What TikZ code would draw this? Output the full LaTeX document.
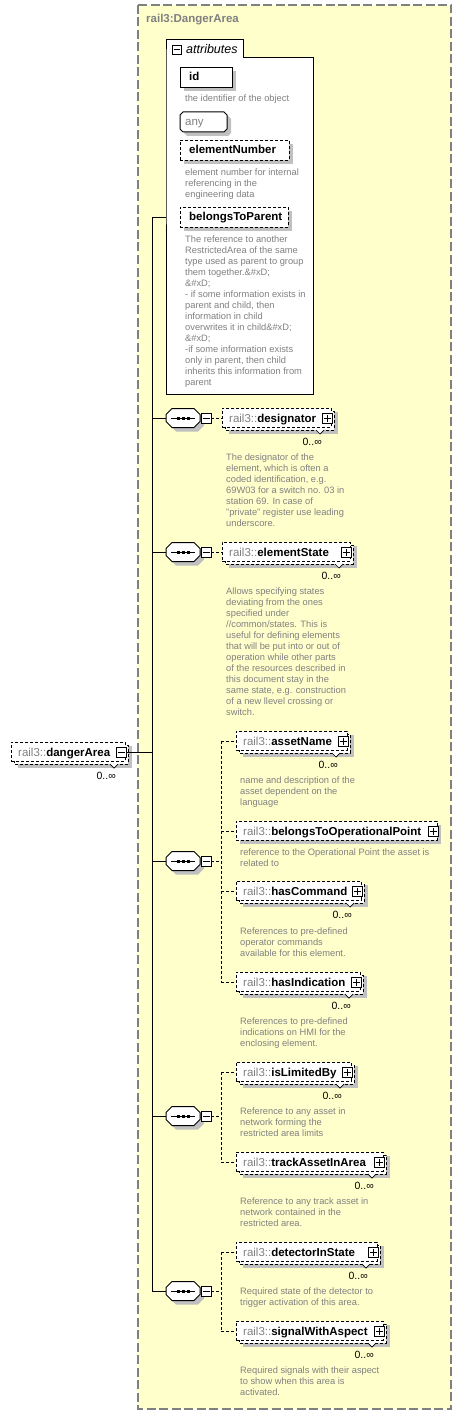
\documentclass[tikz,border=0pt]{standalone}
\usepackage{fontspec}
\setmainfont{Liberation Sans}
\usetikzlibrary{calc}
\definecolor{bgyellow}{RGB}{255,255,204}
\definecolor{framegray}{RGB}{128,128,128}
\definecolor{descgray}{RGB}{128,128,128}
\definecolor{shadowgray}{RGB}{192,192,192}
\tikzset{
  outerframe/.style={draw=framegray, line width=1.3pt, dash pattern=on 9pt off 3.5pt, fill=bgyellow},
  descr/.style={font=\fontsize{9.3}{11}\selectfont, text=descgray, align=left, anchor=north west, inner sep=0pt},
  ebox/.style={draw=black, line width=0.9pt, dash pattern=on 3pt off 2pt, fill=white},
  sbox/.style={draw=black, line width=1pt, fill=white},
  namefont/.style={font=\fontsize{11.5}{13}\selectfont},
  card/.style={font=\fontsize{10.5}{12}\selectfont, anchor=base east, inner sep=0pt},
  conn/.style={line width=1pt, draw=black},
  dconn/.style={line width=0.9pt, draw=black, dash pattern=on 3pt off 2pt},
  sqbox/.style={draw=black, line width=0.8pt, fill=white, minimum size=10pt, inner sep=0pt},
}
\newcommand\octa[5]{({#1+#5},{#2}) -- ({#3-#5},{#2}) -- ({#3},{#2+#5}) -- ({#3},{#4-#5}) -- ({#3-#5},{#4}) -- ({#1+#5},{#4}) -- ({#1},{#4-#5}) -- ({#1},{#2+#5}) -- cycle}
% name, L, c, R, label, multi, plus
\newcommand\xelem[7]{%
  \ifnum#6=1
    \fill[shadowgray] ({#2+7},{#3-6}) rectangle ({#4+7},{#3+16});
    \draw[ebox] ({#2+3},{#3-7}) rectangle ({#4+3},{#3+12});
  \else
    \fill[shadowgray] ({#2+4},{#3-6}) rectangle ({#4+4},{#3+13});
  \fi
  \node[ebox, minimum width={#4-#2}, minimum height=19, inner sep=0pt, anchor=north west] (#1) at (#2,{#3-10}) {};
  \node[namefont, anchor=base west, inner sep=0pt] (#1-t) at ({#2+7},{#3+4}) {\textcolor{descgray}{rail3::}\textbf{#5}};
  \node[sqbox] (#1-s) at ({#4-4},#3) {};
  \draw[line width=0.8pt] ($(#1-s.center)+(-3.5,0)$) -- ($(#1-s.center)+(3.5,0)$);
  \ifnum#7=1 \draw[line width=0.8pt] ($(#1-s.center)+(0,-3.5)$) -- ($(#1-s.center)+(0,3.5)$);\fi
  \ifnum#6=1
    \draw[fill=white, line width=0.7pt] ({#4-15},{#3+12}) -- ({#4-11},{#3+16}) -- ({#4-7},{#3+12});
    \node[card] (#1-c) at ({#4-9},{#3+27}) {0..∞};
  \fi
}
\newcommand\xdesc[4]{\node[descr] (#1-d) at (#2,{#3-5.2}) {\strut #4};}
% name, c
\newcommand\xseq[2]{%
  \fill[shadowgray] \octa{170}{#2-5.5}{204}{#2+13.5}{6};
  \draw[sbox] \octa{166}{#2-9.5}{200}{#2+9.5}{6};
  \node[inner sep=0pt, minimum width=34, minimum height=19] (#1) at (183,#2) {};
  \draw[line width=1pt] (171,#2) -- (195,#2);
  \fill (176.5,{#2-1.5}) rectangle +(3.5,3);
  \fill (181.5,{#2-1.5}) rectangle +(3.5,3);
  \fill (186.5,{#2-1.5}) rectangle +(3.5,3);
  \node[sqbox] (#1-m) at (206,#2) {};
  \draw[line width=0.8pt] ($(#1-m.center)+(-3.5,0)$) -- ($(#1-m.center)+(3.5,0)$);
  \coordinate (#1-j) at (152,#2);
  \draw[conn] (#1-j) -- (#1.west);
}
\begin{document}
\begin{tikzpicture}[x=1pt,y=-1pt]
\useasboundingbox (0,0) rectangle (461,1415);
\fill[white] (0,0) rectangle (461,1415);
% outer complex type frame
\draw[outerframe] (138,5) rectangle (451,1409);
\node[anchor=base west, inner sep=0pt, font=\fontsize{11.5}{13}\selectfont\bfseries, text=descgray] (title) at (146,23) {rail3:DangerArea};

% attributes container
\draw[sbox] (166,58) -- (166,40) -- (243,40) -- (243,58) -- (313,58) -- (313,394) -- (166,394) -- cycle;
\node[sqbox, minimum size=9pt] (attr-m) at (176.5,49.5) {};
\draw[line width=0.8pt] ($(attr-m.center)+(-3,0)$) -- ($(attr-m.center)+(3,0)$);
\node[anchor=base west, inner sep=0pt, font=\fontsize{12.5}{14}\selectfont\itshape] (attr-t) at (186,54) {attributes};
\coordinate (attr-w) at (166,218);

% id
\fill[shadowgray] (184,71) rectangle (236,91);
\node[sbox, minimum width=52, minimum height=20, inner sep=0pt, anchor=north west] (id) at (180,67) {};
\node[namefont, anchor=base west, inner sep=0pt] (id-t) at (189,81) {\textbf{id}};
\xdesc{id}{185}{99}{the identifier of the object}
% any
\fill[shadowgray] \octa{184}{116}{231}{136}{3};
\draw[sbox] \octa{180}{112}{227}{132}{3};
\node[namefont, anchor=base west, inner sep=0pt, text=descgray] (any) at (185,126) {any};
% elementNumber
\fill[shadowgray] (184,144) rectangle (293,164);
\node[ebox, minimum width=109, minimum height=20, inner sep=0pt, anchor=north west] (elementNumber) at (180,140) {};
\node[namefont, anchor=base west, inner sep=0pt] (elementNumber-t) at (189,154) {\textbf{elementNumber}};
\xdesc{elementNumber}{185}{173}{element number for internal\\referencing in the\\engineering data}
% belongsToParent
\fill[shadowgray] (184,211) rectangle (292,231);
\node[ebox, minimum width=108, minimum height=20, inner sep=0pt, anchor=north west] (belongsToParent) at (180,207) {};
\node[namefont, anchor=base west, inner sep=0pt] (belongsToParent-t) at (189,221) {\textbf{belongsToParent}};
\xdesc{belongsToParent}{185}{240}{The reference to another\\RestrictedArea of the same\\type used as parent to group\\them together.\&\#xD;\\\&\#xD;\\- if some information exists in\\parent and child, then\\information in child\\overwrites it in child\&\#xD;\\\&\#xD;\\-if some information exists\\only in parent, then child\\inherits this information from\\parent}

% root element
\xelem{dangerArea}{11}{752}{125}{dangerArea}{1}{0}

% sequences
\xseq{seq1}{418}
\xseq{seq2}{552}
\xseq{seq3}{861}
\xseq{seq4}{1116}
\xseq{seq5}{1291}

% main connector
\coordinate (attr-j) at (152,218);
\draw[conn] (attr-w) -- (attr-j) -- (seq5-j);
\draw[conn] (dangerArea-s.east) -- (dangerArea-s.east -| attr-j);

% seq1
\xelem{designator}{222}{418}{331}{designator}{1}{1}
\xdesc{designator}{226}{458}{The designator of the\\element, which is often a\\coded identification, e.g.\\69W03 for a switch no. 03 in\\station 69. In case of\\"private" register use leading\\underscore.}
\draw[dconn] (seq1-m.east) -- (designator.west |- seq1-m.east);

% seq2
\xelem{elementState}{222}{552}{350}{elementState}{1}{1}
\xdesc{elementState}{226}{592}{Allows specifying states\\deviating from the ones\\specified under\\//common/states. This is\\useful for defining elements\\that will be put into or out of\\operation while other parts\\of the resources described in\\this document stay in the\\same state, e.g. construction\\of a new llevel crossing or\\switch.}
\draw[dconn] (seq2-m.east) -- (elementState.west |- seq2-m.east);

% seq3
\xelem{assetName}{236}{741}{347}{assetName}{1}{1}
\xdesc{assetName}{240}{781}{name and description of the\\asset dependent on the\\language}
\xelem{belongsToOperationalPoint}{236}{831}{437}{belongsToOperationalPoint}{0}{1}
\xdesc{belongsToOperationalPoint}{240}{853}{reference to the Operational Point the asset is\\related to}
\xelem{hasCommand}{236}{891}{361}{hasCommand}{1}{1}
\xdesc{hasCommand}{240}{932}{References to pre-defined\\operator commands\\available for this element.}
\xelem{hasIndication}{236}{982}{360}{hasIndication}{1}{1}
\xdesc{hasIndication}{240}{1022}{References to pre-defined\\indications on HMI for the\\enclosing element.}
\coordinate (seq3-v) at (221,861);
\draw[dconn] (seq3-m.east) -- (seq3-v);
\draw[dconn] (seq3-v |- assetName-t) -- (seq3-v |- hasIndication-s);
\foreach \n in {assetName,belongsToOperationalPoint,hasCommand,hasIndication}
  \draw[dconn] (seq3-v |- \n-s) -- (\n.west |- \n-s);

% seq4
\xelem{isLimitedBy}{236}{1072}{351}{isLimitedBy}{1}{1}
\xdesc{isLimitedBy}{240}{1112}{Reference to any asset in\\network forming the\\restricted area limits}
\xelem{trackAssetInArea}{236}{1162}{383}{trackAssetInArea}{1}{1}
\xdesc{trackAssetInArea}{240}{1202}{Reference to any track asset in\\network contained in the\\restricted area.}
\coordinate (seq4-v) at (221,1116);
\draw[dconn] (seq4-m.east) -- (seq4-v);
\draw[dconn] (seq4-v |- isLimitedBy-s) -- (seq4-v |- trackAssetInArea-s);
\foreach \n in {isLimitedBy,trackAssetInArea}
  \draw[dconn] (seq4-v |- \n-s) -- (\n.west |- \n-s);

% seq5
\xelem{detectorInState}{236}{1252}{377}{detectorInState}{1}{1}
\xdesc{detectorInState}{240}{1292}{Required state of the detector to\\trigger activation of this area.}
\xelem{signalWithAspect}{236}{1331}{383}{signalWithAspect}{1}{1}
\xdesc{signalWithAspect}{240}{1371}{Required signals with their aspect\\to show when this area is\\activated.}
\coordinate (seq5-v) at (221,1291);
\draw[dconn] (seq5-m.east) -- (seq5-v);
\draw[dconn] (seq5-v |- detectorInState-s) -- (seq5-v |- signalWithAspect-s);
\foreach \n in {detectorInState,signalWithAspect}
  \draw[dconn] (seq5-v |- \n-s) -- (\n.west |- \n-s);
\end{tikzpicture}
\end{document}
